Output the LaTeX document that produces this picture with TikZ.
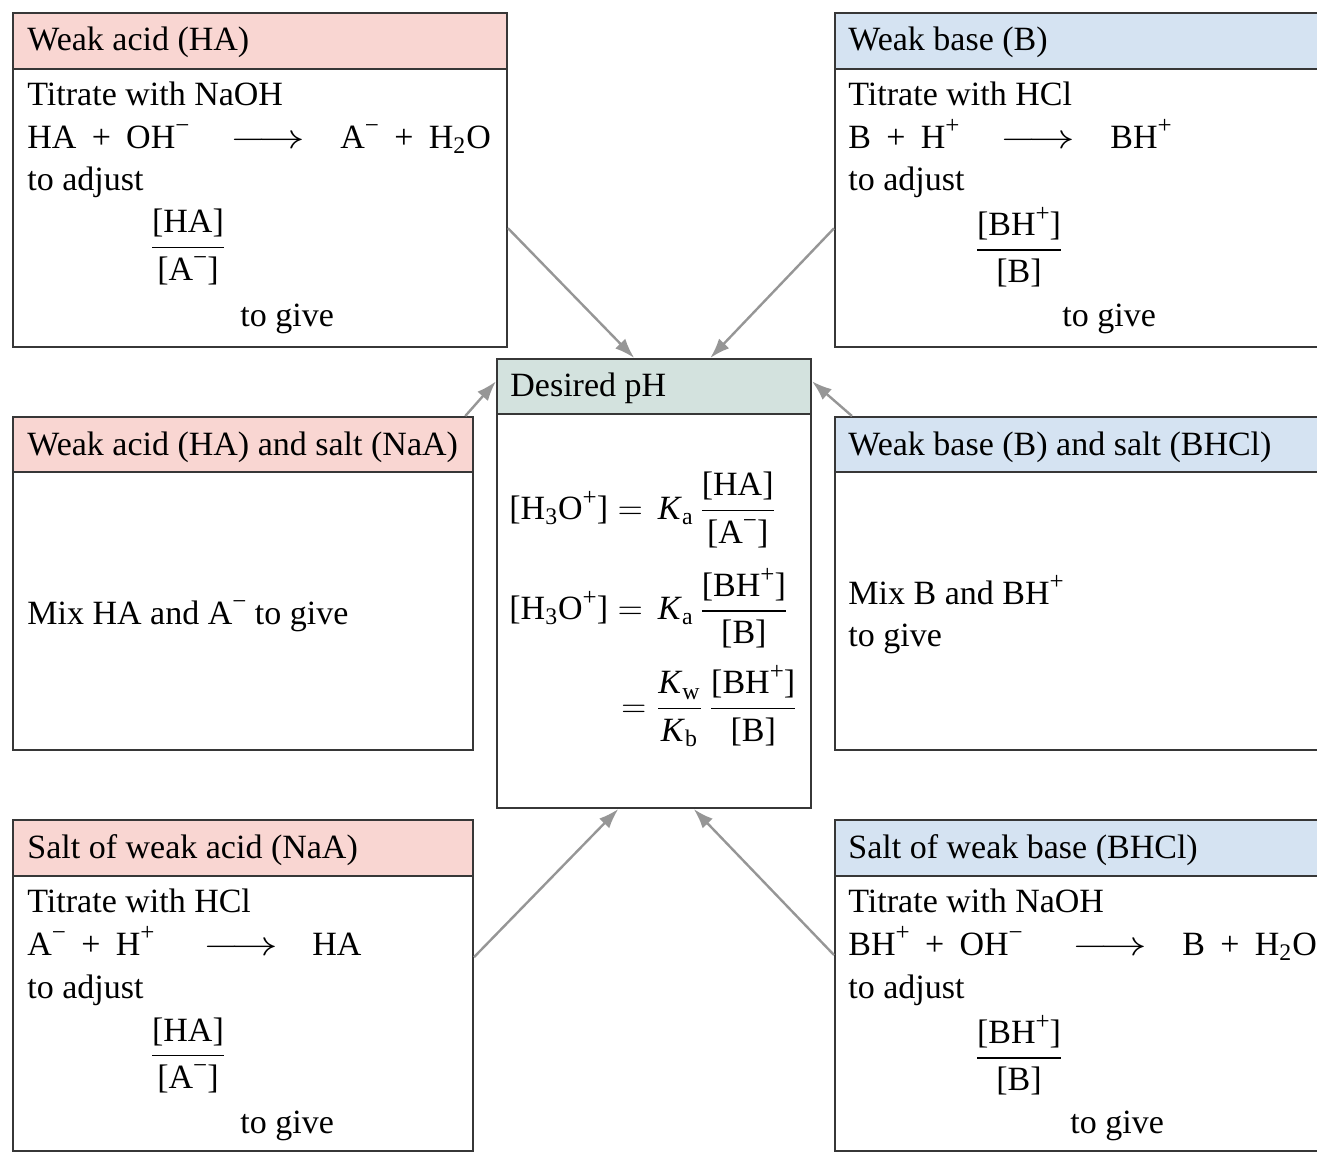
\documentclass[tikz,border=0pt]{standalone}
\usepackage{amsmath}
\usepackage{fontspec}
\setmainfont{Liberation Serif}
\usetikzlibrary{arrows.meta}
\usetikzlibrary{fit}

\definecolor{acidpink}{RGB}{249,214,210}
\definecolor{basblue}{RGB}{213,227,242}
\definecolor{phgreen}{RGB}{211,226,222}
\definecolor{framegray}{RGB}{55,55,55}
\definecolor{arrowgray}{RGB}{150,150,150}
\newcommand{\mns}{\raisebox{0.42em}{\fontsize{12.5}{12}\selectfont −}}
\newcommand{\pls}{\raisebox{0.42em}{\fontsize{12.5}{12}\selectfont +}}
\newcommand{\pl}{\hspace{0.45em}+\hspace{0.45em}}
\newcommand{\yields}{\scalebox{1.35}[1]{$\longrightarrow$}}
\newcommand{\Kx}[1]{\textit{K}\textsubscript{#1}}

\begin{document}
\begin{tikzpicture}[x = 0.5pt, y = -0.5pt]
	\tikzstyle{boxStyle} = [draw = framegray, line width = 1pt, fill = white, inner sep = 0pt]
	\tikzstyle{acidHead} = [boxStyle, fill = acidpink]
	\tikzstyle{baseHead} = [boxStyle, fill = basblue]
	\tikzstyle{phHead} = [boxStyle, fill = phgreen]
	\tikzstyle{txt} = [anchor = base west, inner sep = 0pt, font = \fontsize{17}{21.5}\selectfont]
	\tikzstyle{frac} = [inner sep = 0pt, font = \fontsize{17}{21.5}\selectfont]
	\tikzstyle{link} = [draw = arrowgray, line width = 1.2pt, -{Latex[length = 10pt, width = 7pt]}]
	\useasboundingbox (0,0) rectangle (1317,1153);
	% boxes
	\node[boxStyle, fit = {(13,13) (507,347)}] (ta) {};
	\node[acidHead, fit = {(13,13) (507,69)}] (tah) {};
	\node[boxStyle, fit = {(835,13) (1330,347)}] (tb) {};
	\node[baseHead, fit = {(835,13) (1330,69)}] (tbh) {};
	\node[boxStyle, fit = {(497,359) (811,808)}] (ph) {};
	\node[phHead, fit = {(497,359) (811,414)}] (phh) {};
	\node[boxStyle, fit = {(13,417) (473,750)}] (ma) {};
	\node[acidHead, fit = {(13,417) (473,472)}] (mah) {};
	\node[boxStyle, fit = {(835,417) (1330,750)}] (mb) {};
	\node[baseHead, fit = {(835,417) (1330,472)}] (mbh) {};
	\node[boxStyle, fit = {(13,820) (473,1151)}] (ba) {};
	\node[acidHead, fit = {(13,820) (473,876)}] (bah) {};
	\node[boxStyle, fit = {(835,820) (1330,1151)}] (bb) {};
	\node[baseHead, fit = {(835,820) (1330,876)}] (bbh) {};
	% weak acid
	\node[txt] (ta0) at (27,50) {Weak acid (HA)};
	\node[txt] (ta1) at (27,105) {Titrate with NaOH};
	\node[txt] (ta2) at (27,148) {HA\pl OH\mns};
	\node[txt] (ta3) at (230,148) {\yields};
	\node[txt] (ta4) at (340,148) {A\mns\pl H\textsubscript{2}O};
	\node[txt] (ta5) at (27,190) {to adjust};
	\node[frac] (ta6) at (188,247) {$\dfrac{\text{[HA]}}{\text{[A\mns]}}$};
	\node[txt] (ta7) at (240,326) {to give};
	% weak base
	\node[txt] (tb0) at (848,50) {Weak base (B)};
	\node[txt] (tb1) at (848,105) {Titrate with HCl};
	\node[txt] (tb2) at (848,148) {B\pl H\pls};
	\node[txt] (tb3) at (1000,148) {\yields};
	\node[txt] (tb4) at (1110,148) {BH\pls};
	\node[txt] (tb5) at (848,190) {to adjust};
	\node[frac] (tb6) at (1019,247) {$\dfrac{\text{[BH\pls]}}{\text{[B]}}$};
	\node[txt] (tb7) at (1062,326) {to give};
	% desired pH
	\node[txt] (ph0) at (510,396) {Desired pH};
	\node[frac, anchor = west] (ph1) at (509,510) {$\text{[H\textsubscript{3}O\pls]} =\, \text{\Kx{a}}\,\dfrac{\text{[HA]}}{\text{[A\mns]}}$};
	\node[frac, anchor = west] (ph2) at (509,608) {$\text{[H\textsubscript{3}O\pls]} =\, \text{\Kx{a}}\,\dfrac{\text{[BH\pls]}}{\text{[B]}}$};
	\node[frac, anchor = east] (ph3) at (798,706) {$= \dfrac{\text{\Kx{w}}}{\text{\Kx{b}}}\,\dfrac{\text{[BH\pls]}}{\text{[B]}}$};
	% mixtures
	\node[txt] (ma0) at (27,455) {Weak acid (HA) and salt (NaA)};
	\node[txt] (ma1) at (27,624) {Mix HA and A\mns{} to give};
	\node[txt] (mb0) at (848,455) {Weak base (B) and salt (BHCl)};
	\node[txt] (mb1) at (848,604) {Mix B and BH\pls};
	\node[txt] (mb2) at (848,646) {to give};
	% salt of weak acid
	\node[txt] (ba0) at (27,858) {Salt of weak acid (NaA)};
	\node[txt] (ba1) at (27,912) {Titrate with HCl};
	\node[txt] (ba2) at (27,955) {A\mns\pl H\pls};
	\node[txt] (ba3) at (203,955) {\yields};
	\node[txt] (ba4) at (312,955) {HA};
	\node[txt] (ba5) at (27,998) {to adjust};
	\node[frac] (ba6) at (188,1055) {$\dfrac{\text{[HA]}}{\text{[A\mns]}}$};
	\node[txt] (ba7) at (240,1133) {to give};
	% salt of weak base
	\node[txt] (bb0) at (848,858) {Salt of weak base (BHCl)};
	\node[txt] (bb1) at (848,912) {Titrate with NaOH};
	\node[txt] (bb2) at (848,955) {BH\pls\pl OH\mns};
	\node[txt] (bb3) at (1072,955) {\yields};
	\node[txt] (bb4) at (1182,955) {B\pl H\textsubscript{2}O};
	\node[txt] (bb5) at (848,998) {to adjust};
	\node[frac] (bb6) at (1019,1055) {$\dfrac{\text{[BH\pls]}}{\text{[B]}}$};
	\node[txt] (bb7) at (1070,1133) {to give};
	% arrows
	\draw[link] (ta.-11) -- (ph.95.6);
	\draw[link] (tb.191.4) -- (ph.76.5);
	\draw[link] (ma.37.2) -- (ph.128);
	\draw[link] (mb.144.6) -- (ph.52);
	\draw[link] (ba.7.55) -- (ph.-99.3);
	\draw[link] (bb.173) -- (ph.-80.4);
\end{tikzpicture}
\end{document}
